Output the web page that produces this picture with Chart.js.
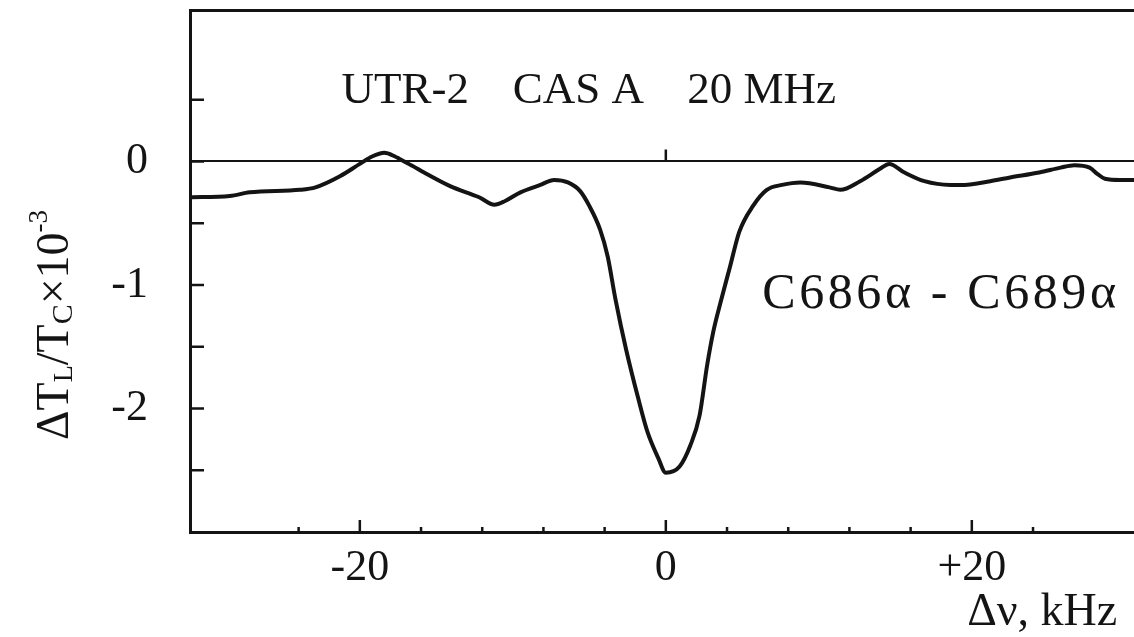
<!DOCTYPE html>
<html>
<head>
<meta charset="utf-8">
<script src="https://cdn.jsdelivr.net/npm/chart.js@4.4.1/dist/chart.umd.min.js"></script>
<style>
  html, body { margin: 0; padding: 0; background: #fff; overflow: hidden; }
  canvas { display: block; }
</style>
</head>
<body>
<canvas id="spectrumChart" width="1134" height="637"></canvas>
<script>
// Frequency offset from the line centre, kHz
const freqOffset = [-31.1, -28.5, -27.2, -23.9, -22.9, -21.3, -20.0, -19.2, -18.4, -17.7, -17.4,
    -16.5, -15.8, -14.1, -12.2, -11.2, -10.5, -9.5, -8.2, -7.3, -6.4, -5.6, -5.0, -4.3, -3.8,
    -3.3, -2.6, -1.8, -1.2, -0.5, 0.0, 0.9, 1.6, 2.2, 2.7, 3.1, 3.6, 4.2, 4.8, 5.7, 6.6, 7.6,
    8.8, 10.7, 11.4, 12.7, 14.0, 14.6, 15.6, 16.9, 18.6, 19.5, 21.2, 22.5, 24.4, 25.8, 26.7,
    27.7, 28.2, 28.7, 29.7, 30.6];

// Line / continuum temperature, in units of 10^-3
const tempRatio = [-0.29, -0.28, -0.25, -0.23, -0.21, -0.12, -0.02, 0.04, 0.07, 0.04, 0.02,
    -0.04, -0.09, -0.20, -0.29, -0.35, -0.32, -0.25, -0.19, -0.15, -0.17, -0.24, -0.36, -0.55, -0.77,
    -1.11, -1.52, -1.92, -2.19, -2.40, -2.52, -2.47, -2.30, -2.06, -1.65, -1.38, -1.13, -0.85, -0.57, -0.36, -0.23, -0.19,
    -0.17, -0.21, -0.23, -0.16, -0.06, -0.02, -0.09, -0.16, -0.19, -0.19, -0.16, -0.13, -0.09, -0.05, -0.03,
    -0.05, -0.10, -0.14, -0.15, -0.15];

// Labelled ticks and the small unlabelled ones
const xTickValues = [-20, 0, 20];
const yTickValues = [-2, -1, 0];
const xMinorTicks = [-24, -16, -12, -8, -4, 4, 8, 12, 16, 24];
const yMinorTicks = [-2.5, -1.5, -0.5, 0.5];

// Text placed inside the plot (positions in data units)
const notes = [
    { text: 'UTR-2', x: -21.2, y: 0.476 },
    { text: 'CAS A', x: -10.0, y: 0.476 },
    { text: '20 MHz', x: 1.4, y: 0.476 },
    { text: 'C686α - C689α', x: 6.3, y: -1.19, size: 50, spacing: '3.6px' }
];

const ink = '#141414';
const serif = '"Liberation Serif", "Times New Roman", serif';

// Draws inward ticks, the annotations and the axis titles
const frameDecor = {
    id: 'frameDecor',
    afterDraw(chart) {
        const { ctx, chartArea, scales } = chart;
        const xs = scales.x, ys = scales.y;
        ctx.save();
        ctx.strokeStyle = ink;

        // y ticks, pointing into the plot
        ctx.lineWidth = 2.5;
        ctx.beginPath();
        yTickValues.concat(yMinorTicks).forEach(v => {
            const py = ys.getPixelForValue(v);
            ctx.moveTo(chartArea.left, py);
            ctx.lineTo(chartArea.left + 14, py);
        });
        // labelled x ticks
        xTickValues.forEach(v => {
            const px = xs.getPixelForValue(v);
            ctx.moveTo(px, chartArea.bottom);
            ctx.lineTo(px, chartArea.bottom - 12);
        });
        // little upward mark at the centre on the zero line
        const cx = xs.getPixelForValue(0), cy = ys.getPixelForValue(0);
        ctx.moveTo(cx, cy);
        ctx.lineTo(cx, cy - 12);
        ctx.stroke();

        // minor x ticks
        ctx.beginPath();
        xMinorTicks.forEach(v => {
            const px = xs.getPixelForValue(v);
            ctx.moveTo(px, chartArea.bottom);
            ctx.lineTo(px, chartArea.bottom - 5);
        });
        ctx.stroke();

        // annotations
        ctx.fillStyle = ink;
        ctx.textBaseline = 'alphabetic';
        ctx.textAlign = 'left';
        notes.forEach(n => {
            ctx.font = (n.size || 45) + 'px ' + serif;
            ctx.letterSpacing = n.spacing || '0px';
            ctx.fillText(n.text, xs.getPixelForValue(n.x), ys.getPixelForValue(n.y));
        });
        ctx.letterSpacing = '0px';

        // x axis title, bottom right
        ctx.font = '46px ' + serif;
        ctx.textAlign = 'right';
        ctx.fillText('Δν, kHz', xs.getPixelForValue(29.5), chartArea.bottom + 93);

        // y axis title with sub- and superscripts, rotated
        ctx.translate(68, 440);
        ctx.rotate(-Math.PI / 2);
        ctx.textAlign = 'left';
        const parts = [
            { t: 'ΔT', size: 46, dy: 0 },
            { t: 'L', size: 28, dy: 4 },
            { t: '/T', size: 46, dy: 0 },
            { t: 'C', size: 30, dy: 4 },
            { t: '×10', size: 46, dy: 0 },
            { t: '-3', size: 27, dy: -21 }
        ];
        let pos = 0;
        parts.forEach(p => {
            ctx.font = p.size + 'px ' + serif;
            ctx.fillText(p.t, pos, p.dy);
            pos += ctx.measureText(p.t).width;
        });
        ctx.restore();
    }
};

const ctx = document.getElementById('spectrumChart').getContext('2d');
const spectrumChart = new Chart(ctx, {
    type: 'line',
    data: {
        datasets: [{
            data: freqOffset.map((f, i) => ({ x: f, y: tempRatio[i] })),
            borderColor: ink,
            borderWidth: 4,
            pointRadius: 0,
            fill: false,
            cubicInterpolationMode: 'monotone'
        }]
    },
    options: {
        responsive: false,
        animation: false,
        events: [],
        layout: { padding: { top: 10, right: 0, bottom: 0, left: 0 } },
        plugins: {
            legend: { display: false },
            tooltip: { enabled: false }
        },
        scales: {
            x: {
                type: 'linear',
                position: 'bottom',
                min: -31.1,
                max: 30.6,
                afterBuildTicks: scale => { scale.ticks = xTickValues.map(v => ({ value: v })); },
                afterFit: scale => { scale.height = 105; scale.paddingLeft = 0; scale.paddingRight = 0; },
                ticks: {
                    color: ink,
                    padding: 10,
                    font: { family: serif, size: 44 },
                    callback: v => (v > 0 ? '+' + v : String(v))
                },
                grid: { drawOnChartArea: false, drawTicks: false, color: 'rgba(0,0,0,0)' },
                border: { display: true, color: ink, width: 3 }
            },
            xTop: {
                type: 'linear',
                position: 'top',
                min: -31.1,
                max: 30.6,
                afterFit: scale => { scale.height = 0; scale.paddingLeft = 0; scale.paddingRight = 0; },
                ticks: { display: false },
                grid: { drawOnChartArea: false, drawTicks: false, color: 'rgba(0,0,0,0)' },
                border: { display: true, color: ink, width: 3 }
            },
            y: {
                type: 'linear',
                min: -3,
                max: 1.226,
                afterBuildTicks: scale => { scale.ticks = yTickValues.map(v => ({ value: v })); },
                // fixed width; drop the label overflow padding so the plot reaches the top
                afterFit: scale => { scale.width = 190; scale.paddingTop = 0; scale.paddingBottom = 0; },
                ticks: {
                    color: ink,
                    padding: 42,
                    font: { family: serif, size: 44 },
                    callback: v => String(v)
                },
                grid: {
                    drawTicks: false,
                    color: c => (c.tick && c.tick.value === 0 ? ink : 'rgba(0,0,0,0)'),
                    lineWidth: 2
                },
                border: { display: true, color: ink, width: 3 }
            }
        }
    },
    plugins: [frameDecor]
});
</script>
</body>
</html>
